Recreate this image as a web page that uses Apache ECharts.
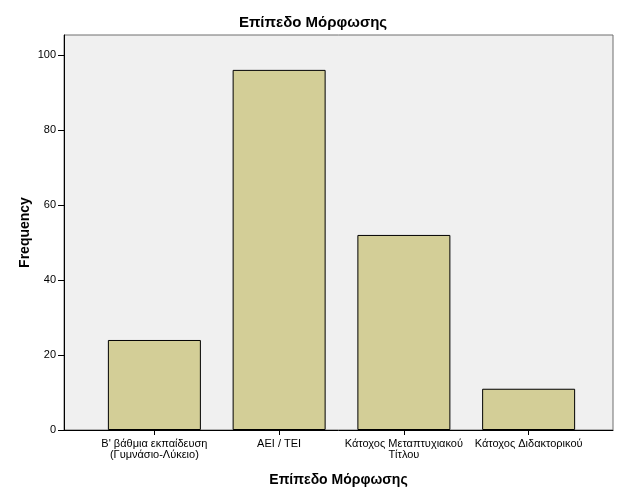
<!DOCTYPE html>
<html><head><meta charset="utf-8">
<script src="https://cdn.jsdelivr.net/npm/echarts@6/dist/echarts.min.js"></script>
<style>html,body{margin:0;padding:0;background:#fff}#c{width:626px;height:501px}</style>
</head><body><div id="c"></div>
<script>
const categories = ["B' βάθμια εκπαίδευση\n(Γυμνάσιο-Λύκειο)", "ΑΕΙ / ΤΕΙ", "Κάτοχος Μεταπτυχιακού\nΤίτλου", "Κάτοχος Διδακτορικού"];
const frequency = [24, 96, 52, 11];
const yTicks = [0, 20, 40, 60, 80, 100];
const titleText = "Επίπεδο Μόρφωσης";
const xName = "Επίπεδο Μόρφωσης";
const yName = "Frequency";

const chart = echarts.init(document.getElementById('c'), null, {renderer: 'canvas'});
const F = 'Arial, "Liberation Sans", sans-serif';
const yMin = 0, yMax = 105.3;
chart.setOption({
  animation: false,
  title: {text: titleText, left: 'center', top: 10, textStyle: {fontFamily: F, fontSize: 15, fontWeight: 'bold', color: '#000'}},
  grid: [
    {left: 64, right: 13, top: 35, bottom: 71, show: true, backgroundColor: '#f0f0f0', borderColor: '#6e6e6e', borderWidth: 1},
    {left: 92, right: 35, top: 35, bottom: 71}
  ],
  xAxis: [
    {gridIndex: 0, type: 'value', min: 0, max: 1, axisLine: {show: true, lineStyle: {color: '#000'}}, axisTick: {show: false}, axisLabel: {show: false}, splitLine: {show: false},
     name: xName, nameLocation: 'middle', nameGap: 43, nameTextStyle: {fontFamily: F, fontSize: 14, fontWeight: 'bold', color: '#000'}},
    {gridIndex: 1, type: 'category', data: categories, axisLine: {show: false},
     axisTick: {show: true, alignWithLabel: true, length: 5, inside: false, lineStyle: {color: '#000'}},
     axisLabel: {fontFamily: F, fontSize: 11, color: '#000', lineHeight: 11, margin: 8, interval: 0}}
  ],
  yAxis: [
    {gridIndex: 0, type: 'value', min: yMin, max: yMax, interval: 20,
     axisLine: {show: true, lineStyle: {color: '#000'}}, axisTick: {show: true, length: 6, lineStyle: {color: '#000'}},
     axisLabel: {fontFamily: F, fontSize: 11, color: '#000', margin: 8, showMaxLabel: false, formatter: v => yTicks.includes(v) ? String(v) : ''},
     splitLine: {show: false},
     name: yName, nameLocation: 'middle', nameGap: 32, nameRotate: 90, nameMoveOverlap: false,
     nameTextStyle: {fontFamily: F, fontSize: 14, fontWeight: 'bold', color: '#000'}},
    {gridIndex: 1, type: 'value', min: yMin, max: yMax, show: false, splitLine: {show: false}}
  ],
  series: [{
    type: 'bar', xAxisIndex: 1, yAxisIndex: 1, data: frequency, barWidth: 93,
    itemStyle: {color: '#d3ce97', borderColor: '#000', borderWidth: 1}
  }]
});
</script></body></html>
